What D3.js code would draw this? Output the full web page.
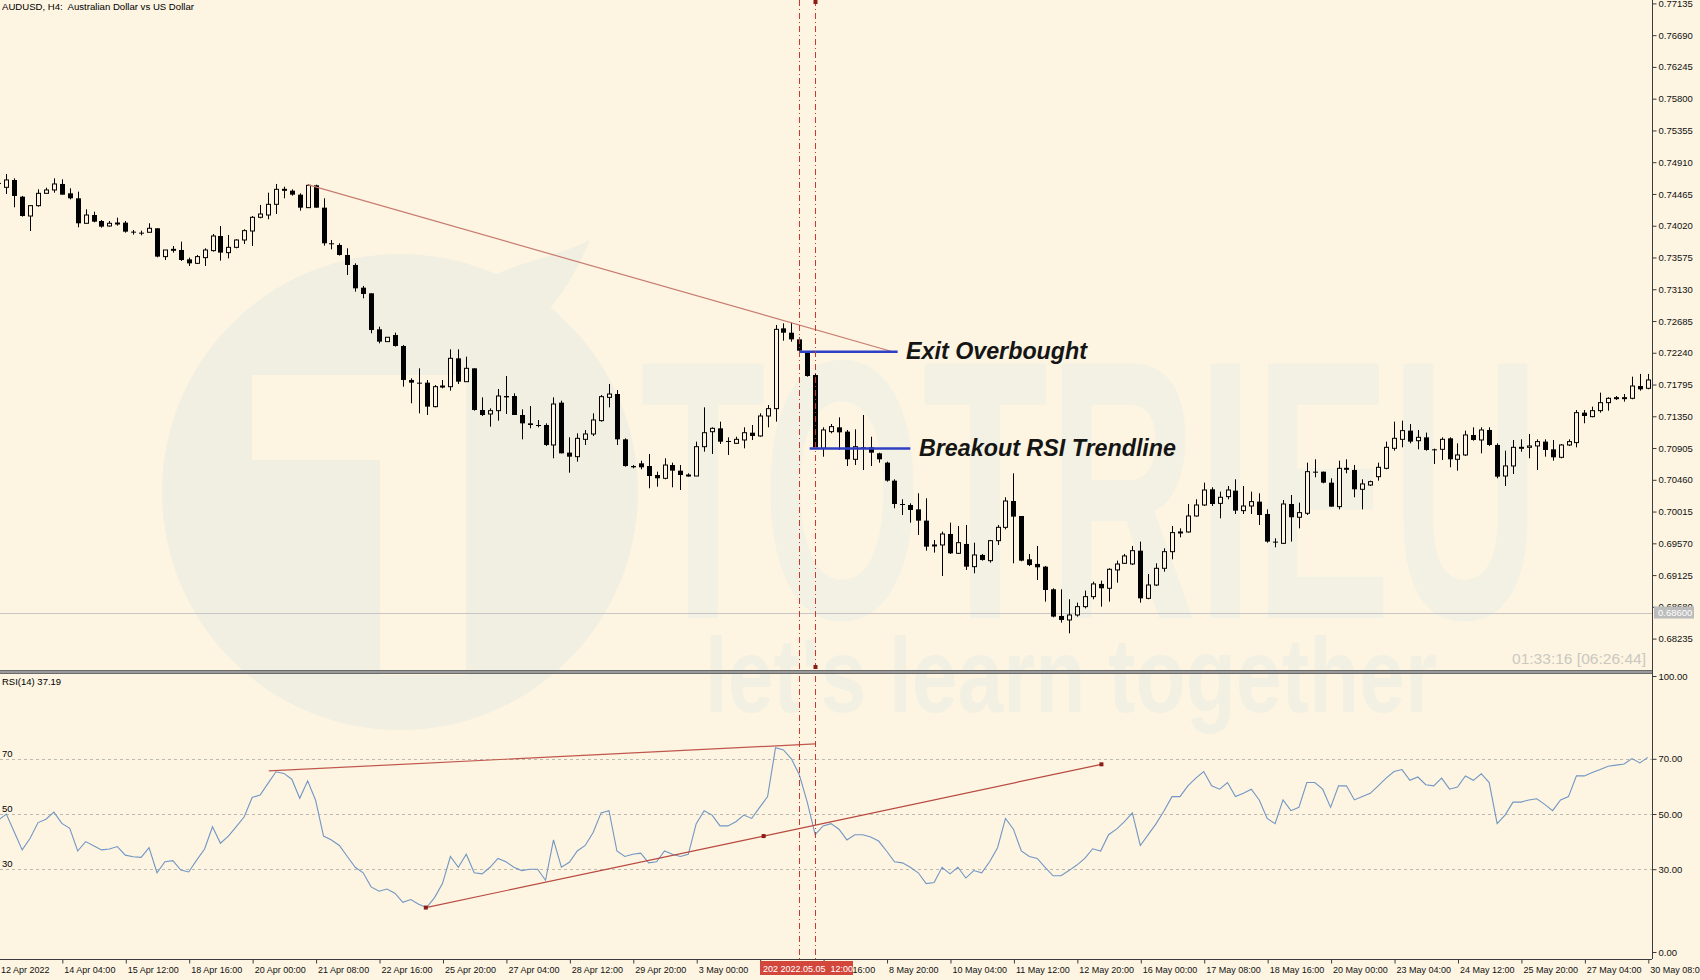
<!DOCTYPE html>
<html>
<head>
<meta charset="utf-8">
<title>AUDUSD H4</title>
<script src="https://cdn.jsdelivr.net/npm/d3@7"></script>
<style>
  body { margin: 0; background: #fdf5e2; overflow: hidden; }
  svg { display: block; }
  text { font-family: 'Liberation Sans', Arial, sans-serif; }
</style>
</head>
<body>
<script>
// one label every 8 H4 bars
const timeLabels = ['12 Apr 2022','14 Apr 04:00','15 Apr 12:00','18 Apr 16:00','20 Apr 00:00','21 Apr 08:00',
  '22 Apr 16:00','25 Apr 20:00','27 Apr 04:00','28 Apr 12:00','29 Apr 20:00','3 May 00:00','4 May 08:00',
  '5 May 16:00','8 May 20:00','10 May 04:00','11 May 12:00','12 May 20:00','16 May 00:00','17 May 08:00',
  '18 May 16:00','20 May 00:00','23 May 04:00','24 May 12:00','25 May 20:00','27 May 04:00','30 May 08:00'];

const open = [0.74620,0.74558,0.74661,0.74427,0.74156,0.74301,0.74474,0.74521,0.74605,0.74474,
  0.74404,0.74054,0.74170,0.74086,0.74016,0.74054,0.74063,0.73937,0.73923,0.73928,
  0.73984,0.73587,0.73680,0.73680,0.73549,0.73493,0.73573,0.73671,0.73876,0.73643,
  0.73717,0.73820,0.73946,0.74138,0.74170,0.74320,0.74521,0.74511,0.74455,0.74273,
  0.74586,0.74273,0.73774,0.73750,0.73610,0.73470,0.73152,0.73073,0.72569,0.72396,
  0.72489,0.72335,0.71859,0.71821,0.71821,0.71485,0.71765,0.71765,0.72162,0.71835,
  0.72022,0.71438,0.71382,0.71429,0.71634,0.71634,0.71368,0.71251,0.71228,0.71228,
  0.70948,0.71541,0.70841,0.70784,0.71027,0.71102,0.71289,0.71615,0.71662,0.71027,
  0.70653,0.70691,0.70653,0.70527,0.70481,0.70667,0.70588,0.70527,0.70513,0.70924,
  0.71134,0.71181,0.71004,0.70971,0.71018,0.71120,0.71074,0.71354,0.71457,0.72582,
  0.72521,0.72428,0.72241,0.71928,0.70901,0.71135,0.71195,0.71135,0.70747,0.70915,
  0.70915,0.70831,0.70700,0.70448,0.70121,0.70107,0.70046,0.69888,0.69533,0.69547,
  0.69701,0.69430,0.69561,0.69243,0.69407,0.69327,0.69607,0.69794,0.70163,0.69953,
  0.69346,0.69281,0.69243,0.68926,0.68552,0.68496,0.68566,0.68683,0.68823,0.69001,
  0.68940,0.69197,0.69290,0.69281,0.69467,0.68799,0.68986,0.69220,0.69453,0.69720,
  0.69729,0.69953,0.70107,0.70327,0.70130,0.70224,0.70308,0.70028,0.70093,0.70154,
  0.69981,0.69594,0.69570,0.70121,0.69935,0.69991,0.70574,0.70574,0.70420,0.70084,
  0.70607,0.70598,0.70327,0.70387,0.70504,0.70621,0.70901,0.71027,0.71149,0.71008,
  0.71055,0.70887,0.70887,0.71041,0.70747,0.70808,0.71088,0.71018,0.71158,0.70948,
  0.70513,0.70654,0.70901,0.70915,0.70934,0.70995,0.70887,0.70775,0.70948,0.70981,
  0.71401,0.71345,0.71429,0.71541,0.71602,0.71602,0.71602,0.71774,0.71742];

const high = [0.74680,0.74745,0.74684,0.74437,0.74301,0.74530,0.74553,0.74684,0.74670,0.74544,
  0.74497,0.74250,0.74217,0.74100,0.74086,0.74133,0.74086,0.73960,0.73951,0.74054,
  0.73984,0.73680,0.73736,0.73797,0.73573,0.73610,0.73704,0.73904,0.74016,0.73890,
  0.73830,0.73970,0.74156,0.74311,0.74483,0.74605,0.74567,0.74530,0.74474,0.74605,
  0.74595,0.74404,0.73820,0.73774,0.73704,0.73493,0.73176,0.73073,0.72606,0.72457,
  0.72522,0.72349,0.71882,0.72022,0.71858,0.71788,0.71858,0.72288,0.72288,0.72185,
  0.72022,0.71615,0.71461,0.71732,0.71914,0.71672,0.71447,0.71494,0.71298,0.71251,
  0.71615,0.71569,0.71055,0.71111,0.71158,0.71391,0.71648,0.71802,0.71718,0.71041,
  0.70667,0.70728,0.70822,0.70574,0.70761,0.70700,0.70667,0.70551,0.70994,0.71475,
  0.71195,0.71275,0.71055,0.71064,0.71195,0.71228,0.71391,0.71508,0.72629,0.72652,
  0.72662,0.72456,0.72255,0.71942,0.71195,0.71242,0.71335,0.71158,0.71167,0.71368,
  0.71064,0.70840,0.70714,0.70467,0.70187,0.70130,0.70271,0.70201,0.69617,0.69734,
  0.69860,0.69813,0.69827,0.69579,0.69421,0.69617,0.69827,0.70215,0.70551,0.69953,
  0.69421,0.69533,0.69253,0.68940,0.68926,0.68786,0.68739,0.68907,0.69033,0.69047,
  0.69220,0.69327,0.69421,0.69533,0.69594,0.69140,0.69290,0.69500,0.69813,0.69780,
  0.70121,0.70187,0.70420,0.70355,0.70294,0.70374,0.70467,0.70373,0.70294,0.70271,
  0.70046,0.69640,0.70177,0.70247,0.70140,0.70700,0.70747,0.70574,0.70481,0.70728,
  0.70747,0.70668,0.70467,0.70448,0.70700,0.70995,0.71275,0.71289,0.71242,0.71158,
  0.71121,0.70897,0.71055,0.71055,0.70971,0.71149,0.71195,0.71195,0.71195,0.70971,
  0.70868,0.71018,0.71027,0.71102,0.71027,0.71027,0.71018,0.70962,0.71027,0.71438,
  0.71438,0.71485,0.71681,0.71616,0.71634,0.71662,0.71905,0.71943,0.71943];

const low = [0.74580,0.74465,0.74278,0.74147,0.73946,0.74287,0.74474,0.74483,0.74455,0.74390,
  0.73998,0.74054,0.74068,0.73993,0.74007,0.74021,0.73923,0.73895,0.73886,0.73928,
  0.73577,0.73540,0.73643,0.73526,0.73456,0.73484,0.73456,0.73657,0.73531,0.73563,
  0.73704,0.73764,0.73736,0.74124,0.74110,0.74184,0.74404,0.74441,0.74231,0.74273,
  0.74273,0.73741,0.73689,0.73601,0.73330,0.73096,0.73003,0.72513,0.72372,0.72396,
  0.72326,0.71765,0.71532,0.71391,0.71368,0.71475,0.71742,0.71709,0.71802,0.71835,
  0.71429,0.71354,0.71205,0.71289,0.71382,0.71368,0.71027,0.71181,0.71195,0.70934,
  0.70761,0.70831,0.70560,0.70714,0.70948,0.71074,0.71275,0.71475,0.70948,0.70644,
  0.70621,0.70607,0.70341,0.70364,0.70467,0.70355,0.70317,0.70504,0.70513,0.70854,
  0.70822,0.70962,0.70808,0.70962,0.70901,0.71018,0.71064,0.71195,0.71275,0.72409,
  0.72395,0.72255,0.71905,0.70901,0.70784,0.71111,0.70878,0.70653,0.70668,0.70597,
  0.70653,0.70700,0.70434,0.70061,0.69967,0.69860,0.69687,0.69467,0.69440,0.69112,
  0.69421,0.69421,0.69197,0.69150,0.69327,0.69299,0.69547,0.69766,0.69290,0.69318,
  0.69252,0.69056,0.68753,0.68533,0.68459,0.68309,0.68543,0.68659,0.68786,0.68683,
  0.68753,0.69019,0.69281,0.69266,0.68739,0.68786,0.68972,0.69173,0.69346,0.69654,
  0.69720,0.69944,0.70093,0.70093,0.69920,0.70187,0.69981,0.69981,0.69981,0.69827,
  0.69579,0.69514,0.69561,0.69594,0.69780,0.69967,0.70495,0.70411,0.70084,0.70046,
  0.70551,0.70215,0.70046,0.70373,0.70448,0.70607,0.70868,0.70915,0.70971,0.70887,
  0.70868,0.70682,0.70738,0.70635,0.70588,0.70794,0.71008,0.70831,0.70934,0.70481,
  0.70373,0.70541,0.70854,0.70761,0.70597,0.70784,0.70728,0.70761,0.70934,0.70915,
  0.71252,0.71336,0.71401,0.71429,0.71579,0.71555,0.71588,0.71709,0.71728];

const close = [0.74610,0.74661,0.74437,0.74156,0.74301,0.74474,0.74521,0.74605,0.74455,0.74404,
  0.74054,0.74170,0.74077,0.74007,0.74054,0.74058,0.73937,0.73928,0.73918,0.73984,
  0.73587,0.73680,0.73689,0.73540,0.73493,0.73587,0.73680,0.73876,0.73643,0.73717,
  0.73820,0.73951,0.74138,0.74184,0.74320,0.74530,0.74530,0.74455,0.74273,0.74586,
  0.74273,0.73774,0.73760,0.73610,0.73470,0.73143,0.73064,0.72559,0.72396,0.72457,
  0.72335,0.71859,0.71821,0.71812,0.71485,0.71765,0.71774,0.72162,0.71835,0.72022,
  0.71438,0.71368,0.71429,0.71634,0.71615,0.71368,0.71251,0.71228,0.71219,0.70948,
  0.71522,0.70831,0.70784,0.71041,0.71102,0.71298,0.71625,0.71662,0.71027,0.70653,
  0.70635,0.70635,0.70513,0.70481,0.70667,0.70588,0.70527,0.70527,0.70924,0.71120,
  0.71181,0.70994,0.70990,0.71027,0.71120,0.71074,0.71354,0.71457,0.72568,0.72521,
  0.72428,0.72269,0.71914,0.70915,0.71158,0.71205,0.71125,0.70747,0.70924,0.70896,
  0.70840,0.70747,0.70448,0.70121,0.70107,0.70037,0.69888,0.69523,0.69547,0.69701,
  0.69430,0.69579,0.69243,0.69407,0.69337,0.69607,0.69794,0.70163,0.69944,0.69327,
  0.69266,0.69234,0.68916,0.68543,0.68496,0.68566,0.68683,0.68823,0.69001,0.68940,
  0.69206,0.69280,0.69393,0.69467,0.68799,0.68986,0.69220,0.69453,0.69720,0.69729,
  0.69953,0.70107,0.70317,0.70121,0.70215,0.70317,0.70028,0.70093,0.70154,0.69967,
  0.69594,0.69589,0.70121,0.69935,0.70000,0.70574,0.70565,0.70420,0.70084,0.70621,
  0.70621,0.70327,0.70402,0.70434,0.70635,0.70915,0.71041,0.71149,0.70995,0.71055,
  0.70878,0.70878,0.71027,0.70747,0.70808,0.71088,0.71018,0.71158,0.70948,0.70504,
  0.70654,0.70915,0.70915,0.70934,0.70995,0.70878,0.70775,0.70948,0.70995,0.71401,
  0.71354,0.71429,0.71541,0.71602,0.71611,0.71611,0.71774,0.71728,0.71859];

const rsi = [47.8,50,43.5,37,41.2,46.9,48.1,50.7,46.6,44.8,
  36.6,40,38.5,37,37.3,38.2,35.1,34.5,34.3,37.8,
  28.7,32.7,33.1,29.7,29,33.3,37.3,45.4,39.4,42,
  45.4,49,56,56.9,61.1,65.3,64.7,62.6,55.7,62,
  55,42,40.6,38.6,34.6,30.7,28.7,23.6,22,22.8,
  21.3,18,19,17.3,16.1,19.7,24.8,34.6,30.7,35.4,
  28.7,28.3,30.7,33.9,32.7,30.7,29.5,30,30,26,
  40.6,30.7,32.5,36.6,38.6,43.3,50.4,51.2,36.6,34.6,
  35.4,35.8,32.3,32.7,36.6,35.4,34.6,35.4,46.5,51.2,
  49.6,45.7,45.7,47.2,49.6,48.4,52.4,56.3,74,73.2,
  70,64.2,54.3,42.5,45.7,46.5,44.5,40.6,42.5,42.5,
  41.7,40.2,36.6,32.7,32.3,30.7,28.7,24.8,25.2,30.7,
  28.3,30.7,26.8,29.5,28.7,32.7,37.8,48.4,44.5,36.6,
  34.6,33.9,30.7,27.6,27.6,29.5,31.5,33.9,37.4,36.6,
  42.5,44.5,47.2,50.4,38.6,42.5,46.5,51.2,56.3,56.3,
  60.2,63,65.4,60.2,59,61.4,56.3,57.5,59,55.1,
  48.4,46.5,55.1,51.2,52.4,61.4,61.4,59,52.4,60.2,
  60.2,55.1,56.3,57.5,60.2,63,65.4,66.1,62.2,63.4,
  60.6,60.2,63,59,59.8,63.8,62.2,64.6,61.4,46.5,
  49.6,54.3,54.3,55.1,55.5,53.5,51.2,55.1,56.3,63.8,
  63.8,65,66.1,67.3,67.7,68.1,70.1,68.5,70.5];

const priceTicks = [0.77135,0.76690,0.76245,0.75800,0.75355,0.74910,0.74465,0.74020,0.73575,0.73130,
  0.72685,0.72240,0.71795,0.71350,0.70905,0.70460,0.70015,0.69570,0.69125,0.68680,0.68235];
const rsiTicks = [0, 30, 50, 70, 100];
const rsiLevels = [30, 50, 70];

// drawn objects: [bar, value] pairs
const priceTrend = [[39, 0.74595], [113.1, 0.72244]];
const exitLine = [[101, 0.72255], [113.4, 0.72255]];
const breakLine = [[102.3, 0.70897], [115, 0.70897]];
const rsiTopLine = [[34.1, 65.6], [103, 75.4]];
const rsiTrend = [[53.9, 16.1], [96.5, 42], [139.1, 68]];
const markedBars = [101, 103];
const hLinePrice = 0.686;

const width = 1700, height = 980;
const axisX = 1652;
const mainBottom = 670, rsiTop = 674, timeY = 959;
const bg = '#fdf5e2';

const svg = d3.select('body').append('svg')
  .attr('width', width)
  .attr('height', height);

svg.append('rect').attr('width', width).attr('height', height).attr('fill', bg);

const x = d3.scaleLinear().domain([0, 208]).range([-1.6, 1647.8]);
const y = d3.scaleLinear().domain([0.68235, 0.72685]).range([638.6, 321]);
const yR = d3.scaleLinear().domain([0, 100]).range([952, 676]);

const defs = svg.append('defs');
defs.append('clipPath').attr('id', 'mainClip')
  .append('rect').attr('x', 0).attr('y', 0).attr('width', axisX).attr('height', mainBottom);
defs.append('clipPath').attr('id', 'rsiClip')
  .append('rect').attr('x', 0).attr('y', rsiTop).attr('width', axisX).attr('height', timeY - rsiTop);

// watermark
const wm = svg.append('g');
wm.append('circle').attr('cx', 400).attr('cy', 492).attr('r', 238).attr('fill', '#f1efe1');
wm.append('path')
  .attr('d', 'M455,300 C500,262 545,262 590,240 C575,275 560,300 540,318 C520,330 490,330 455,300 Z')
  .attr('fill', '#f1efe1');
wm.append('rect').attr('x', 252).attr('y', 375).attr('width', 128).attr('height', 85).attr('fill', bg);
wm.append('rect').attr('x', 380).attr('y', 375).attr('width', 86).attr('height', 300).attr('fill', bg);
wm.append('text').attr('x', 640).attr('y', 618)
  .attr('font-family', 'Inter, Roboto, sans-serif').attr('font-weight', 800)
  .attr('font-size', 370).attr('textLength', 900).attr('lengthAdjust', 'spacingAndGlyphs')
  .attr('fill', '#f3f1e3').text('TOTRIEU');
wm.append('text').attr('x', 705).attr('y', 712)
  .attr('font-family', 'Inter, Roboto, sans-serif').attr('font-weight', 700)
  .attr('font-size', 105).attr('textLength', 732).attr('lengthAdjust', 'spacingAndGlyphs')
  .attr('fill', '#f2f0e2').text("let's learn together");

// main panel
const main = svg.append('g').attr('clip-path', 'url(#mainClip)');

main.append('line')
  .attr('x1', 0).attr('x2', axisX)
  .attr('y1', Math.round(y(hLinePrice)) + 0.5).attr('y2', Math.round(y(hLinePrice)) + 0.5)
  .attr('stroke', '#c6c6c6');

const bars = d3.range(open.length).map(i => ({ i, o: open[i], h: high[i], l: low[i], c: close[i] }));
const px = i => Math.round(x(i));

main.selectAll('line.wick').data(bars).join('line')
  .attr('class', 'wick')
  .attr('x1', d => px(d.i) + 0.5).attr('x2', d => px(d.i) + 0.5)
  .attr('y1', d => y(d.h)).attr('y2', d => y(d.l))
  .attr('stroke', '#000');

main.selectAll('rect.body').data(bars).join('rect')
  .attr('class', 'body')
  .attr('x', d => d.c >= d.o ? px(d.i) - 1.5 : px(d.i) - 2)
  .attr('width', d => d.c >= d.o ? 4 : 5)
  .attr('y', d => y(Math.max(d.o, d.c)))
  .attr('height', d => Math.max(1, y(Math.min(d.o, d.c)) - y(Math.max(d.o, d.c))))
  .attr('fill', d => d.c >= d.o ? bg : '#000')
  .attr('stroke', d => d.c >= d.o ? '#000' : 'none');

const pLine = d3.line().x(d => x(d[0])).y(d => y(d[1]));
main.append('path').attr('d', pLine(priceTrend)).attr('fill', 'none').attr('stroke', '#c77b6f').attr('stroke-width', 1.2);
main.append('path').attr('d', pLine(exitLine)).attr('fill', 'none').attr('stroke', '#2f3fc4').attr('stroke-width', 2.5);
main.append('path').attr('d', pLine(breakLine)).attr('fill', 'none').attr('stroke', '#2f3fc4').attr('stroke-width', 2.5);

const annot = (txt, xx, yy, len) => main.append('text')
  .attr('x', xx).attr('y', yy)
  .attr('font-family', 'Inter, "Open Sans", sans-serif')
  .attr('font-style', 'italic').attr('font-weight', 800)
  .attr('font-size', 23).attr('textLength', len).attr('lengthAdjust', 'spacingAndGlyphs')
  .attr('fill', '#151515').text(txt);
annot('Exit Overbought', 906, 359, 181);
annot('Breakout RSI Trendline', 919, 456, 257);

main.append('text').attr('x', 1512).attr('y', 664)
  .attr('font-size', 14).attr('textLength', 134).attr('lengthAdjust', 'spacingAndGlyphs')
  .attr('fill', '#cac8c0').text('01:33:16 [06:26:44]');

svg.append('text').attr('x', 2).attr('y', 10).attr('font-size', 9.6)
  .style('white-space', 'pre').text('AUDUSD, H4:  Australian Dollar vs US Dollar');

// RSI panel
const sub = svg.append('g').attr('clip-path', 'url(#rsiClip)');
sub.selectAll('line.lvl').data(rsiLevels).join('line')
  .attr('class', 'lvl')
  .attr('x1', 0).attr('x2', axisX)
  .attr('y1', d => Math.round(yR(d)) + 0.5).attr('y2', d => Math.round(yR(d)) + 0.5)
  .attr('stroke', '#bdbab2').attr('stroke-dasharray', '3,3');

sub.append('path')
  .attr('d', d3.line().x((d, i) => x(i)).y(d => yR(d))(rsi))
  .attr('fill', 'none').attr('stroke', '#7196c4').attr('stroke-width', 1.1);

const rLine = d3.line().x(d => x(d[0])).y(d => yR(d[1]));
sub.append('path').attr('d', rLine(rsiTopLine)).attr('fill', 'none').attr('stroke', '#c0574c').attr('stroke-width', 1.2);
sub.append('path').attr('d', rLine(rsiTrend)).attr('fill', 'none').attr('stroke', '#b84a40').attr('stroke-width', 1.2);
sub.selectAll('rect.anchor').data(rsiTrend).join('rect')
  .attr('class', 'anchor')
  .attr('x', d => x(d[0]) - 2).attr('y', d => yR(d[1]) - 2)
  .attr('width', 4).attr('height', 4).attr('fill', '#8c1c16');

svg.selectAll('text.lvl').data(rsiLevels).join('text')
  .attr('class', 'lvl')
  .attr('x', 2).attr('y', d => yR(d) - 2)
  .attr('font-size', 9.5).text(d => d);
svg.append('text').attr('x', 2).attr('y', 685).attr('font-size', 9.5).text('RSI(14) 37.19');

// marked bars (vertical lines)
svg.selectAll('line.vmark').data(markedBars).join('line')
  .attr('class', 'vmark')
  .attr('x1', d => px(d) + 0.5).attr('x2', d => px(d) + 0.5)
  .attr('y1', 0).attr('y2', timeY + 4)
  .attr('stroke', '#c8382c').attr('stroke-dasharray', '6,3,1,3');
svg.append('rect').attr('x', px(103) - 1.5).attr('y', 0).attr('width', 4).attr('height', 4).attr('fill', '#8c1c16');
svg.append('rect').attr('x', px(103) - 1.5).attr('y', 665).attr('width', 4).attr('height', 4).attr('fill', '#8c1c16');

// panel separator
svg.append('rect').attr('x', 0).attr('y', mainBottom).attr('width', axisX).attr('height', rsiTop - mainBottom).attr('fill', '#9a9a9a');
svg.append('line').attr('x1', 0).attr('x2', axisX).attr('y1', mainBottom + 0.5).attr('y2', mainBottom + 0.5).attr('stroke', '#6b6b6b');
svg.append('line').attr('x1', 0).attr('x2', axisX).attr('y1', rsiTop - 0.5).attr('y2', rsiTop - 0.5).attr('stroke', '#6b6b6b');

// axes
svg.append('line').attr('x1', axisX + 0.5).attr('x2', axisX + 0.5).attr('y1', 0).attr('y2', timeY)
  .attr('stroke', '#3c3c3c');
svg.append('line').attr('x1', 0).attr('x2', axisX).attr('y1', timeY + 0.5).attr('y2', timeY + 0.5)
  .attr('stroke', '#3c3c3c');

const styleAxis = g => {
  g.select('.domain').remove();
  g.attr('font-family', "'Liberation Sans', Arial, sans-serif").attr('font-size', 9.5);
  g.selectAll('line').attr('stroke', '#3c3c3c');
  g.selectAll('text').attr('fill', '#111');
};

svg.append('g').attr('transform', `translate(${axisX + 0.5},0)`)
  .call(d3.axisRight(y).tickValues(priceTicks).tickSize(4).tickPadding(2).tickFormat(d3.format('.5f')))
  .call(styleAxis);

svg.append('g').attr('transform', `translate(${axisX + 0.5},0)`)
  .call(d3.axisRight(yR).tickValues(rsiTicks).tickSize(4).tickPadding(2).tickFormat(d3.format('.2f')))
  .call(styleAxis);

svg.append('g').attr('transform', `translate(0,${timeY + 0.5})`)
  .call(d3.axisBottom(x).tickValues(d3.range(0, open.length, 8)).tickSize(4).tickPadding(3)
    .tickFormat((d, i) => timeLabels[i]))
  .call(styleAxis)
  .call(g => g.selectAll('.tick line').attr('transform', 'translate(0.5,0)'))
  .call(g => g.selectAll('.tick text').attr('text-anchor', 'start').attr('x', 2).attr('font-size', 9));

// current price label for the horizontal line
const hy = y(hLinePrice);
svg.append('rect').attr('x', axisX + 2).attr('y', hy - 6).attr('width', 40).attr('height', 12).attr('fill', '#bcbcbc');
svg.append('text').attr('x', axisX + 6).attr('y', hy + 3.5).attr('font-size', 9.5).attr('fill', '#fff')
  .text(hLinePrice.toFixed(5));

// crosshair time label
svg.append('rect').attr('x', 760).attr('y', 961).attr('width', 93).attr('height', 14).attr('fill', '#d2463c');
svg.append('text').attr('x', 763).attr('y', 971.5).attr('font-size', 9).attr('fill', '#fff')
  .style('white-space', 'pre').text('202 2022.05.05  12:00');
</script>
</body>
</html>
